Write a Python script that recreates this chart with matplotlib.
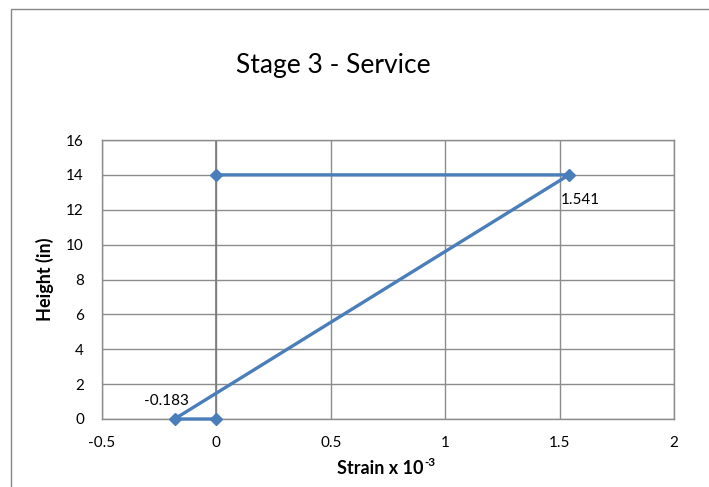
import matplotlib
matplotlib.use("Agg")
import matplotlib.pyplot as plt
from matplotlib.patches import Rectangle

strain = [0.0, -0.183, 1.541, 0.0]
height = [0.0, 0.0, 14.0, 14.0]
x_ticks = [-0.5, 0, 0.5, 1, 1.5, 2]
x_tick_labels = ["-0.5", "0", "0.5", "1", "1.5", "2"]
y_ticks = [0, 2, 4, 6, 8, 10, 12, 14, 16]
labels = {1: "-0.183", 2: "1.541"}

plt.rcParams['font.family'] = ['Lato', 'DejaVu Sans']

W, H = 709, 487
fig = plt.figure(figsize=(W / 100, H / 100), dpi=100)
fig.patches.append(Rectangle((11 / W, -0.1), 1.2, 1 - 9 / H + 0.1, transform=fig.transFigure,
                             fill=False, edgecolor='#868686', linewidth=1.0))

ax = fig.add_axes([102 / W, 1 - 419 / H, (674 - 102) / W, (419 - 140) / H])
ax.set_xlim(-0.5, 2)
ax.set_ylim(0, 16)
ax.set_xticks(x_ticks)
ax.set_xticklabels(x_tick_labels)
ax.set_yticks(y_ticks)
ax.grid(True, color='#8c8c8c', linewidth=1.0)
ax.set_axisbelow(True)
ax.axvline(0, color='#7a7a7a', linewidth=1.2, zorder=1)
for s in ax.spines.values():
    s.set_color('#8c8c8c')
    s.set_linewidth(1.0)
ax.tick_params(length=0, labelsize=11, colors='black')
ax.tick_params(axis='y', pad=13)
ax.tick_params(axis='x', pad=12)

ax.plot(strain, height, color='#4A7EBB', linewidth=2.4, marker='D', markersize=6.5,
        markerfacecolor='#4A7EBB', markeredgecolor='#4A7EBB', zorder=3, clip_on=False)

ax.annotate(labels[1], (strain[1], height[1]), xytext=(-6, 13), textcoords='offset points',
            ha='center', va='center', fontsize=11)
ax.annotate(labels[2], (strain[2], height[2]), xytext=(-6, -18), textcoords='offset points',
            ha='left', va='center', fontsize=11)

ax.set_ylabel("Height (in)", fontsize=13, fontweight='bold', labelpad=9)

# x label with superscript (hyphen, not minus)
fig.canvas.draw()
renderer = fig.canvas.get_renderer()
main = fig.text(0, 1 - 469 / H, "Strain x 10", fontsize=13, fontweight='bold', ha='left', va='center')
sup = fig.text(0, 1 - 463 / H, "-3", fontsize=8.5, fontweight='bold', ha='left', va='center')
wm = main.get_window_extent(renderer).width
ws = sup.get_window_extent(renderer).width
cx = 386
x0 = cx - (wm + ws) / 2
main.set_x(x0 / W)
sup.set_x((x0 + wm + 0.5) / W)

fig.text(333 / W, 1 - 66 / H, "Stage 3 - Service", fontsize=19, ha='center', va='center')

fig.savefig("out.png", dpi=100)
